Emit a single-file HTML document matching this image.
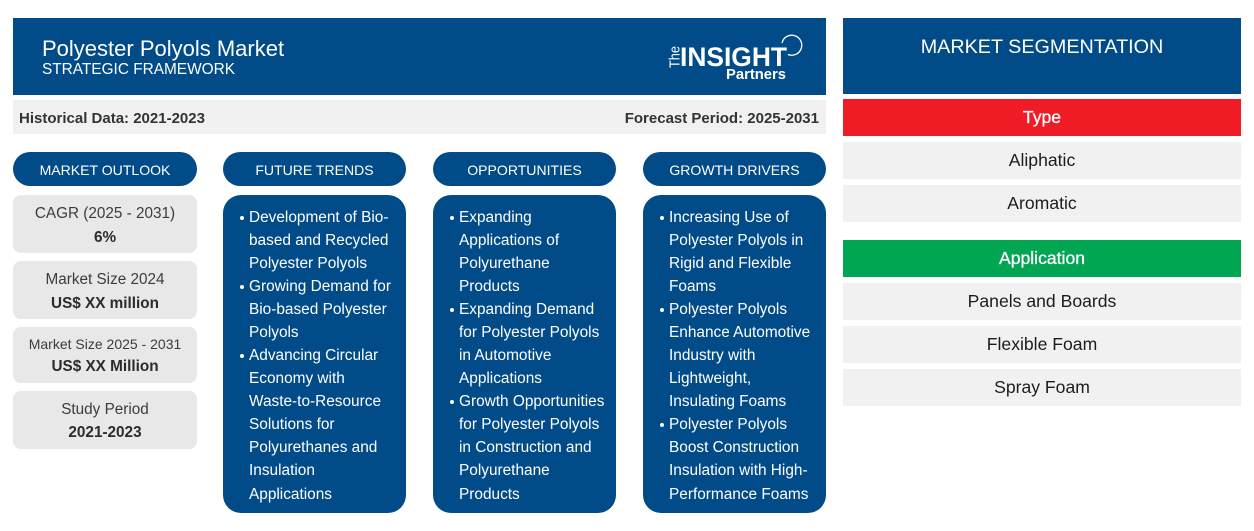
<!DOCTYPE html>
<html lang="en">
<head>
<meta charset="utf-8">
<title>Polyester Polyols Market Strategic Framework</title>
<style>
html,body{margin:0;padding:0;background:#fff}
body{width:1254px;height:531px;position:relative;overflow:hidden;font-family:"Liberation Sans",Arial,sans-serif}
.a{position:absolute;box-sizing:border-box}
.blue{background:#004b88}
.pill{top:152px;height:34px;border-radius:17px;background:#004b88;color:#fff;font-size:14.05px;line-height:36px;text-align:center}
.card{left:13px;width:184px;background:#e8e8e8;border-radius:8px;text-align:center;color:#3c3c3c;font-size:15.3px}
.card div{position:absolute;left:0;right:0;line-height:23px}
.card b{color:#2b2b2b}
.panel{top:195px;height:318px;border-radius:18px;background:#004b88;color:#fff;font-size:15.4px;line-height:23.08px}
.panel ul{list-style:none;margin:0;padding:0;position:absolute;left:26px;top:10.6px;white-space:nowrap}
.panel li{position:relative}
.panel li::before{content:"";position:absolute;left:-9px;top:10px;width:4px;height:4px;border-radius:50%;background:#fff}
.seg{left:843px;width:398px;height:37px;background:#f1f1f1;color:#1c1c1c;text-align:center;font-size:17.6px;line-height:37px}
.seghead{color:#fff;background:#ef1c25;height:37px;-webkit-text-stroke:0.3px #fff}
</style>
</head>
<body>

<div class="a blue" style="left:13px;top:18px;width:813px;height:77px"></div>
<div class="a" style="left:42px;top:35px;color:#fff;font-size:22px;line-height:27px;white-space:nowrap">Polyester Polyols Market</div>
<div class="a" style="left:42px;top:60px;color:#fff;font-size:15.4px;line-height:19px;white-space:nowrap">STRATEGIC FRAMEWORK</div>

<svg class="a" style="left:660px;top:28px" width="150" height="58" viewBox="0 0 150 58">
  <text transform="translate(19.5,40) rotate(-90)" font-family="Liberation Sans, sans-serif" font-size="15" fill="#fff" textLength="22" lengthAdjust="spacingAndGlyphs">The</text>
  <text x="20" y="38" font-family="Liberation Sans, sans-serif" font-size="27" font-weight="bold" fill="#fff" textLength="107" lengthAdjust="spacingAndGlyphs">INSIGHT</text>
  <text x="66" y="51" font-family="Liberation Sans, sans-serif" font-size="15" font-weight="bold" fill="#fff" textLength="60" lengthAdjust="spacingAndGlyphs">Partners</text>
  <path d="M122 15 A10 10 0 1 1 128 26.5" fill="none" stroke="#fff" stroke-width="1.3"/>
</svg>

<div class="a" style="left:13px;top:100px;width:813px;height:34px;background:#f1f1f1"></div>
<div class="a" style="left:19px;top:108.6px;font-size:15px;font-weight:bold;color:#333;line-height:19px;white-space:nowrap">Historical Data: 2021-2023</div>
<div class="a" style="right:435px;top:108.6px;font-size:15px;font-weight:bold;color:#333;line-height:19px;white-space:nowrap">Forecast Period: 2025-2031</div>

<div class="a pill" style="left:13px;width:184px">MARKET OUTLOOK</div>
<div class="a pill" style="left:223px;width:183px">FUTURE TRENDS</div>
<div class="a pill" style="left:433px;width:183px">OPPORTUNITIES</div>
<div class="a pill" style="left:643px;width:183px">GROWTH DRIVERS</div>

<div class="a card" style="top:195px;height:58px">
  <div style="top:7px">CAGR (2025 - 2031)</div>
  <div style="top:30.5px;font-size:15.3px"><b>6%</b></div>
</div>
<div class="a card" style="top:261px;height:58px">
  <div style="top:7px">Market Size 2024</div>
  <div style="top:30.5px;font-size:15.3px"><b>US$ XX million</b></div>
</div>
<div class="a card" style="top:327px;height:56px">
  <div style="top:6px;font-size:14px">Market Size 2025 - 2031</div>
  <div style="top:28px;font-size:15.3px"><b>US$ XX Million</b></div>
</div>
<div class="a card" style="top:391px;height:58px">
  <div style="top:7px">Study Period</div>
  <div style="top:30px;font-size:15.3px"><b>2021-2023</b></div>
</div>

<div class="a panel" style="left:223px;width:183px">
  <ul>
    <li>Development of Bio-<br>based and Recycled<br>Polyester Polyols</li>
    <li>Growing Demand for<br>Bio-based Polyester<br>Polyols</li>
    <li>Advancing Circular<br>Economy with<br>Waste-to-Resource<br>Solutions for<br>Polyurethanes and<br>Insulation<br>Applications</li>
  </ul>
</div>
<div class="a panel" style="left:433px;width:183px">
  <ul>
    <li>Expanding<br>Applications of<br>Polyurethane<br>Products</li>
    <li>Expanding Demand<br>for Polyester Polyols<br>in Automotive<br>Applications</li>
    <li>Growth Opportunities<br>for Polyester Polyols<br>in Construction and<br>Polyurethane<br>Products</li>
  </ul>
</div>
<div class="a panel" style="left:643px;width:183px">
  <ul>
    <li>Increasing Use of<br>Polyester Polyols in<br>Rigid and Flexible<br>Foams</li>
    <li>Polyester Polyols<br>Enhance Automotive<br>Industry with<br>Lightweight,<br>Insulating Foams</li>
    <li>Polyester Polyols<br>Boost Construction<br>Insulation with High-<br>Performance Foams</li>
  </ul>
</div>

<div class="a blue" style="left:843px;top:18px;width:398px;height:76px;color:#fff;font-size:19.75px;line-height:58px;text-align:center">MARKET SEGMENTATION</div>

<div class="a seg seghead" style="top:99px">Type</div>
<div class="a seg" style="top:142px">Aliphatic</div>
<div class="a seg" style="top:185px">Aromatic</div>
<div class="a seg seghead" style="top:240px;background:#00a651">Application</div>
<div class="a seg" style="top:283px">Panels and Boards</div>
<div class="a seg" style="top:326px">Flexible Foam</div>
<div class="a seg" style="top:369px">Spray Foam</div>

</body>
</html>
